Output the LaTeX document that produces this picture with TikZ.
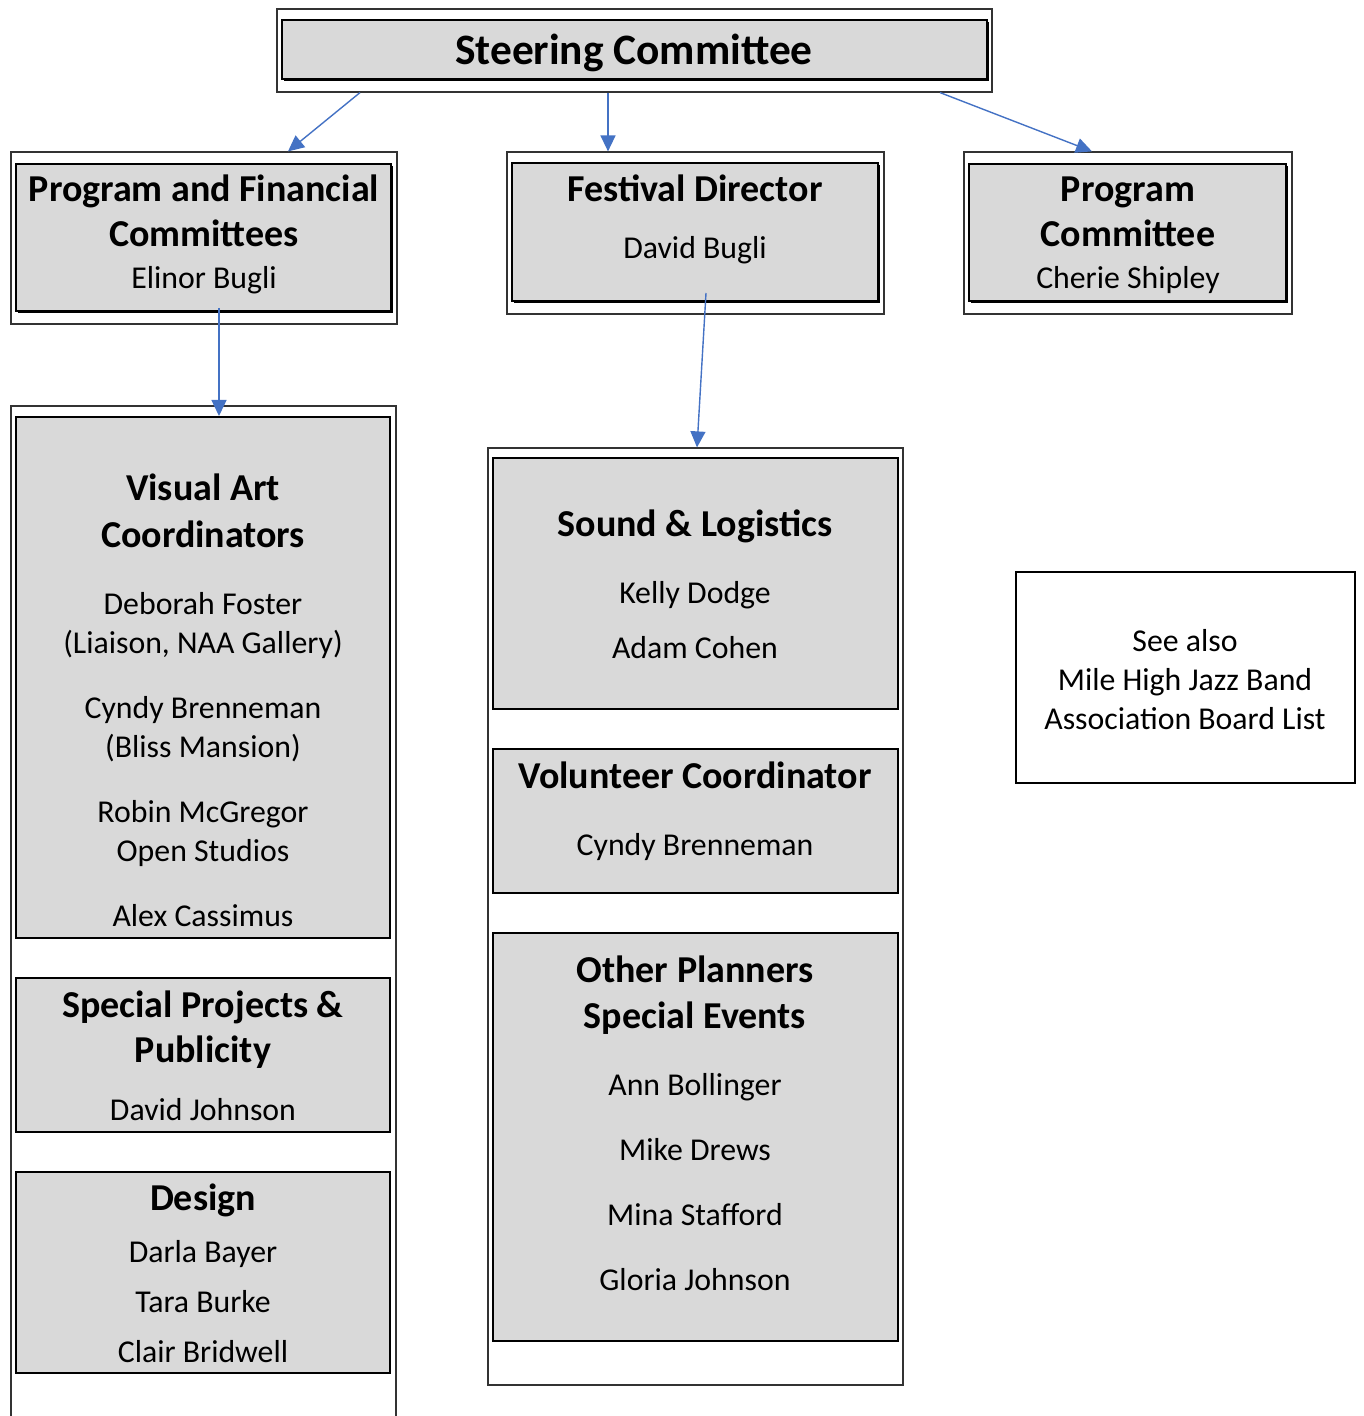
\documentclass[tikz,border=0pt]{standalone}
\usepackage{fontspec}
\setmainfont{Carlito}
\usetikzlibrary{fit,arrows.meta,shadows}
\definecolor{boxgray}{HTML}{D9D9D9}
\definecolor{arrowblue}{HTML}{4472C4}
\tikzset{
  outerbox/.style={draw=black!80, line width=0.6pt, inner sep=0pt, fill=white},
  topbox/.style={draw=black, line width=1.4pt, fill=boxgray, inner sep=0pt,
    drop shadow={shadow xshift=1.2pt, shadow yshift=-1.2pt, opacity=1, fill=black}},
  colbox/.style={draw=black, line width=1pt, fill=boxgray, inner sep=0pt},
  notebox/.style={draw=black, line width=0.6pt, inner sep=0pt},
  hd/.style={anchor=base, inner sep=0pt, font=\fontsize{19pt}{22pt}\selectfont\bfseries},
  big/.style={anchor=base, inner sep=0pt, font=\fontsize{21.7pt}{25pt}\selectfont\bfseries},
  nm/.style={anchor=base, inner sep=0pt, font=\fontsize{15.9pt}{19pt}\selectfont},
  conn/.style={draw=arrowblue, line width=0.7pt, -{Triangle[length=8pt,width=7.5pt]}}
}
\begin{document}
\begin{tikzpicture}[x=0.5pt,y=-0.5pt]
\useasboundingbox (0,0) rectangle (1363,1416);
% outer frames
\node[outerbox, fit={(277,9)(992,92)}] (steerO) {};
\node[outerbox, fit={(11,152)(397,324)}] (pfO) {};
\node[outerbox, fit={(507,152)(884,314)}] (fdO) {};
\node[outerbox, fit={(964,152)(1292,314)}] (pcO) {};
\node[outerbox, fit={(11,406)(396,1430)}] (leftO) {};
\node[outerbox, fit={(488,448)(903,1385)}] (midO) {};
% top boxes
\node[topbox, fit={(282,20)(987,79)}] (steer) {};
\node[topbox, fit={(16,164)(391,311)}] (pf) {};
\node[topbox, fit={(512,163)(878,301)}] (fd) {};
\node[topbox, fit={(969,164)(1286,301)}] (pc) {};
% column boxes
\node[colbox, fit={(16,417)(390,938)}] (va) {};
\node[colbox, fit={(16,978)(390,1132)}] (sp) {};
\node[colbox, fit={(16,1172)(390,1373)}] (de) {};
\node[colbox, fit={(493,458)(898,709)}] (sl) {};
\node[colbox, fit={(493,749)(898,893)}] (vc) {};
\node[colbox, fit={(493,933)(898,1341)}] (op) {};
\node[notebox, fit={(1016,572)(1355,783)}] (see) {};
% texts
\node[big] (t1) at (634,65) {Steering Committee};
\node[hd] (t2) at (204,202) {Program and Financial};
\node[hd] (t3) at (204,247) {Committees};
\node[nm] (t4) at (204,289) {Elinor Bugli};
\node[hd] (t5) at (695,202) {Festival Director};
\node[nm] (t6) at (695,259) {David Bugli};
\node[hd] (t7) at (1128,202) {Program};
\node[hd] (t8) at (1128,247) {Committee};
\node[nm] (t9) at (1128,289) {Cherie Shipley};
\node[hd] (v1) at (203,501) {Visual Art};
\node[hd] (v2) at (203,547) {Coordinators};
\node[nm] (v3) at (203,614) {Deborah Foster};
\node[nm] (v4) at (203,653) {(Liaison, NAA Gallery)};
\node[nm] (v5) at (203,718) {Cyndy Brenneman};
\node[nm] (v6) at (203,757) {(Bliss Mansion)};
\node[nm] (v7) at (203,822) {Robin McGregor};
\node[nm] (v8) at (203,861) {Open Studios};
\node[nm] (v9) at (203,926) {Alex Cassimus};
\node[hd] (s1) at (203,1017) {Special Projects \&};
\node[hd] (s2) at (203,1062) {Publicity};
\node[nm] (s3) at (203,1120) {David Johnson};
\node[hd] (d1) at (203,1210) {Design};
\node[nm] (d2) at (203,1262) {Darla Bayer};
\node[nm] (d3) at (203,1312) {Tara Burke};
\node[nm] (d4) at (203,1362) {Clair Bridwell};
\node[hd] (l1) at (695,536) {Sound \& Logistics};
\node[nm] (l2) at (695,603) {Kelly Dodge};
\node[nm] (l3) at (695,658) {Adam Cohen};
\node[hd] (c1) at (695,788) {Volunteer Coordinator};
\node[nm] (c2) at (695,855) {Cyndy Brenneman};
\node[hd] (o1) at (695,982) {Other Planners};
\node[hd] (o2) at (695,1028) {Special Events};
\node[nm] (o3) at (695,1095) {Ann Bollinger};
\node[nm] (o4) at (695,1160) {Mike Drews};
\node[nm] (o5) at (695,1225) {Mina Stafford};
\node[nm] (o6) at (695,1290) {Gloria Johnson};
\node[nm] (n1) at (1185,651) {See also};
\node[nm] (n2) at (1185,690) {Mile High Jazz Band};
\node[nm] (n3) at (1185,729) {Association Board List};
% connectors
\coordinate (fdstart) at (706,293);
\coordinate (pfstart) at (219,308);
\draw[conn] (360,0 |- steerO.south) -- (288,0 |- pfO.north);
\draw[conn] (608,0 |- steerO.south) -- (608,0 |- fdO.north);
\draw[conn] (940,0 |- steerO.south) -- (1092,0 |- pcO.north);
\draw[conn] (pfstart) -- (219,0 |- va.north);
\draw[conn] (fdstart) -- (697,0 |- midO.north);
\end{tikzpicture}
\end{document}
